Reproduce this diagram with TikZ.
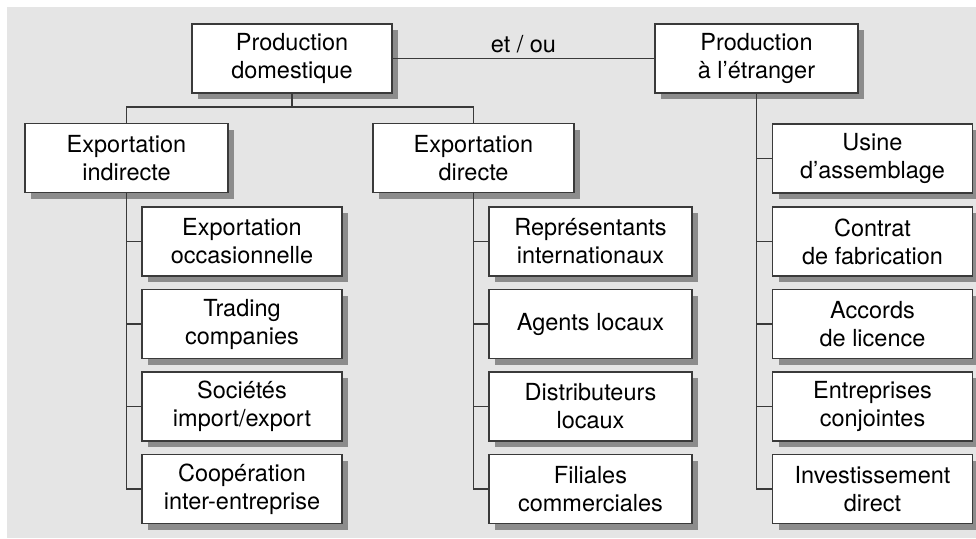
\documentclass[tikz,border=0pt]{standalone}
\usepackage{fontspec}
\setmainfont{TeX Gyre Heros}
\usetikzlibrary{shadows}
\definecolor{bgc}{HTML}{E5E5E5}
\definecolor{linec}{HTML}{3A3A3A}
\definecolor{shadc}{HTML}{8C8C8C}
\begin{document}
\begin{tikzpicture}[x=1pt,y=-1pt,
  box/.style={draw=linec, fill=white, line width=1.3pt, minimum width=200pt, minimum height=69pt,
    inner sep=0pt, align=center, font=\fontsize{23.5}{28}\selectfont,
    drop shadow={shadow xshift=6pt, shadow yshift=-6pt, fill=shadc, opacity=1}},
  conn/.style={draw=linec, line width=1.3pt}]
\useasboundingbox (0,0) rectangle (976,538);
\fill[bgc] (7,7) rectangle (976,538);
% top level
\node[box, minimum width=200pt] (dom) at (292,58.5) {Production\\domestique};
\node[box, minimum width=203pt] (etr) at (756.5,58.5) {Production\\à l’étranger};
\node[font=\fontsize{23.5}{28}\selectfont] (etou) at (523.5,44) {et / ou};
\draw[conn] (dom.east) -- (etr.west);
% second level
\node[box, minimum width=203pt] (ind) at (126.5,158) {Exportation\\indirecte};
\node[box, minimum width=201pt] (dir) at (473.5,158) {Exportation\\directe};
\coordinate (j) at (292,107);
\draw[conn] (dom.south) -- (j);
\draw[conn] (ind.north) -- (ind.north |- j) -- (dir.north |- j) -- (dir.north);
% indirect children
\node[box] (i1) at (242,241.5) {Exportation\\occasionnelle};
\node[box] (i2) at (242,324) {Trading\\companies};
\node[box] (i3) at (242,406.5) {Sociétés\\import/export};
\node[box] (i4) at (242,489) {Coopération\\inter-entreprise};
% direct children
\node[box, minimum width=203pt] (d1) at (590.5,241.5) {Représentants\\internationaux};
\node[box, minimum width=203pt] (d2) at (590.5,324) {Agents locaux};
\node[box, minimum width=203pt] (d3) at (590.5,406.5) {Distributeurs\\locaux};
\node[box, minimum width=203pt] (d4) at (590.5,489) {Filiales\\commerciales};
% foreign children
\node[box] (e1) at (872.5,158.5) {Usine\\d’assemblage};
\node[box] (e2) at (872.5,241.5) {Contrat\\de fabrication};
\node[box] (e3) at (872.5,324) {Accords\\de licence};
\node[box] (e4) at (872.5,406.5) {Entreprises\\conjointes};
\node[box] (e5) at (872.5,489) {Investissement\\direct};
% trunks
\draw[conn] (ind.south) -- (ind.south |- i4.west) -- (i4.west);
\foreach \c in {i1,i2,i3} \draw[conn] (ind.south |- \c.west) -- (\c.west);
\draw[conn] (dir.south) -- (dir.south |- d4.west) -- (d4.west);
\foreach \c in {d1,d2,d3} \draw[conn] (dir.south |- \c.west) -- (\c.west);
\draw[conn] (etr.south) -- (etr.south |- e5.west) -- (e5.west);
\foreach \c in {e1,e2,e3,e4} \draw[conn] (etr.south |- \c.west) -- (\c.west);
\end{tikzpicture}
\end{document}
